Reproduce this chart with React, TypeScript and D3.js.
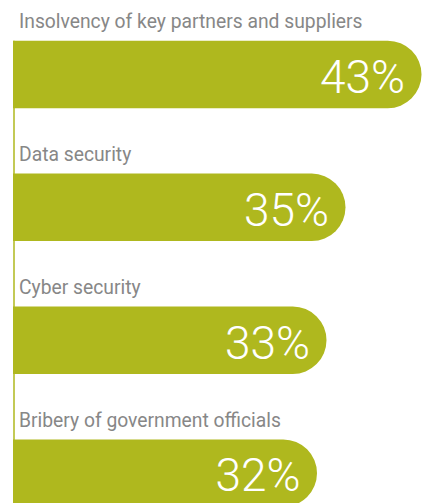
import React from "react";
import * as d3 from "d3";

const categories = [
  "Insolvency of key partners and suppliers",
  "Data security",
  "Cyber security",
  "Bribery of government officials",
];
const values = [43, 35, 33, 32];
const valueLabels = ["43%", "35%", "33%", "32%"];

const W = 425;
const H = 503;
const BAR_COLOR = "#afb81e";
const LABEL_COLOR = "#878787";

export default function App() {
  const x0 = 13;
  const x = d3.scaleLinear().domain([0, 43]).range([x0, 421.5]);
  const y = d3
    .scaleBand<string>()
    .domain(categories)
    .range([7.7, 7.7 + 4 * 132.9])
    .paddingInner(0)
    .paddingOuter(0);
  const barOffset = 33;
  const barH = 67.5;
  const r = barH / 2;

  const barPath = (v: number, top: number) => {
    const xe = x(v);
    const p = d3.path();
    p.moveTo(x0, top);
    p.lineTo(xe - r, top);
    p.arc(xe - r, top + r, r, -Math.PI / 2, Math.PI / 2);
    p.lineTo(x0, top + barH);
    p.closePath();
    return p.toString();
  };

  const firstTop = (y(categories[0]) ?? 0) + barOffset;
  const lastTop = (y(categories[categories.length - 1]) ?? 0) + barOffset;

  return (
    <div style={{ position: "absolute", left: 0, top: 0 }}>
      <svg width={W} height={H} style={{ display: "block", background: "#fff" }}>
        <line
          x1={x0 + 1}
          x2={x0 + 1}
          y1={firstTop}
          y2={lastTop + barH}
          stroke={BAR_COLOR}
          strokeWidth={1.5}
        />
        {categories.map((c, i) => {
          const top = (y(c) ?? 0) + barOffset;
          return (
            <g key={c}>
              <text
                x={19}
                y={(y(c) ?? 0) + 20.5}
                fill={LABEL_COLOR}
                fontFamily="Roboto, 'Open Sans', sans-serif"
                fontSize={19.3}
              >
                {c}
              </text>
              <path d={barPath(values[i], top)} fill={BAR_COLOR} />
              <text
                x={x(values[i]) - 16.5}
                y={top + 52}
                textAnchor="end"
                fill="#fff"
                fontFamily="Roboto, sans-serif"
                fontWeight={300}
                fontSize={46}
              >
                {valueLabels[i]}
              </text>
            </g>
          );
        })}
      </svg>
    </div>
  );
}
